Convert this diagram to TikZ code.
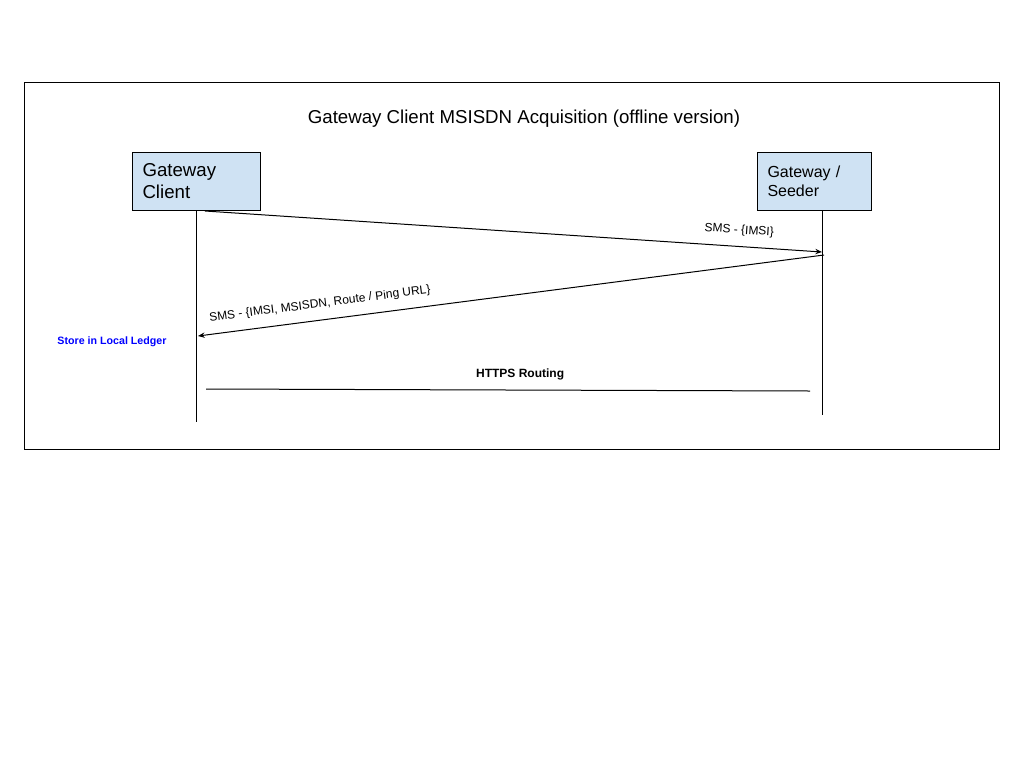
\documentclass[tikz,border=0pt]{standalone}
\usepackage{fontspec}
\setmainfont{Liberation Sans}
\usepackage{xcolor}
\usetikzlibrary{positioning,arrows.meta}
\definecolor{actorblue}{HTML}{CFE2F3}
\definecolor{noteblue}{HTML}{0000FF}

\begin{document}
\begin{tikzpicture}[
  x=0.75pt, y=-0.75pt,
  actor/.style={draw, fill=actorblue, align=left, minimum height=43.5pt, inner xsep=7.5pt, line width=0.75pt, anchor=north west},
  msg/.style={line width=0.75pt},
  arrow/.style={msg, -{Stealth[length=5pt,width=4pt]}},
  lbl/.style={font=\fontsize{9}{11}\selectfont, sloped, above=4pt},
  note/.style={font=\fontsize{8}{10}\selectfont\bfseries, text=noteblue}
]
\useasboundingbox (0,0) rectangle (1024,768);
\node[draw, line width=0.75pt, minimum width=731.25pt, minimum height=275.25pt, anchor=north west] (frame) at (24,82) {};
\node[font=\fontsize{14}{17}\selectfont] (title) at (524,119) {Gateway Client MSISDN Acquisition (offline version)};

\node[actor, text width=81pt, font=\fontsize{14}{16.5}\selectfont] (client) at (132,152) {Gateway\\Client};
\node[actor, text width=70.5pt, font=\fontsize{12}{14.25}\selectfont] (seeder) at (757,152) {Gateway /\\Seeder};

% lifelines
\coordinate (client-top) at (196,210);
\coordinate (client-bot) at (196,422);
\coordinate (seeder-top) at (822,210);
\coordinate (seeder-bot) at (822,415);
\draw[msg] (client-top) -- (client-bot);
\draw[msg] (seeder-top) -- (seeder-bot);

% messages
\coordinate (imsi-from) at (205,211);
\coordinate (imsi-to) at (822,252);
\coordinate (reply-from) at (824,255);
\coordinate (reply-to) at (198,336);
\coordinate (https-from) at (206,389);
\coordinate (https-to) at (810,391);

\draw[arrow] (imsi-from) -- node[lbl, pos=0.864] {SMS - \{IMSI\}} (imsi-to);
\draw[arrow] (reply-from) -- node[lbl, pos=0.802] {SMS - \{IMSI, MSISDN, Route / Ping URL\}} (reply-to);
\draw[msg] (https-from) -- node[lbl, pos=0.52, font=\fontsize{9}{11}\selectfont\bfseries] {HTTPS Routing} (https-to);

\node[note] (ledger) at (112,342) {Store in Local Ledger};

\end{tikzpicture}
\end{document}
